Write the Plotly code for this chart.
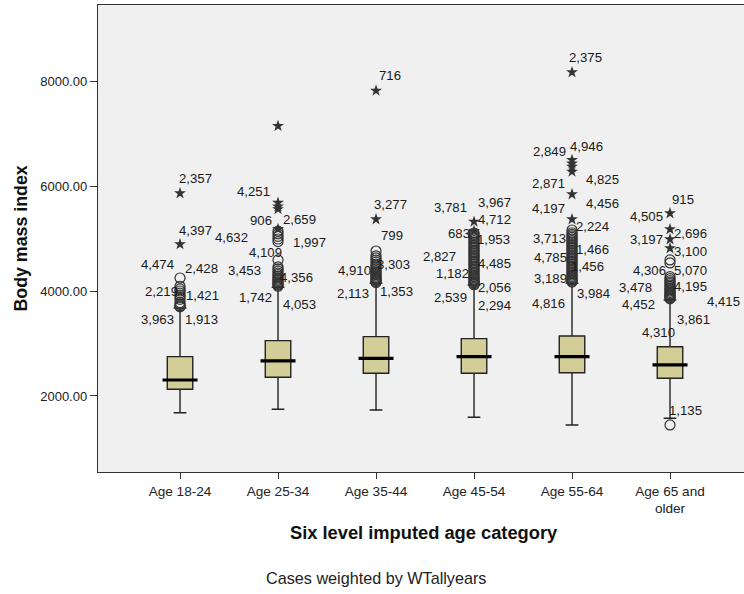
import plotly.graph_objects as go

# ---------------- data ----------------
categories = ["Age 18-24", "Age 25-34", "Age 35-44", "Age 45-54", "Age 55-64", "Age 65 and<br>older"]
cat_idx = [0, 1, 2, 3, 4, 5]

q1 = [2128, 2356, 2432, 2432, 2444, 2337]
median = [2305, 2667, 2718, 2749, 2749, 2591]
q3 = [2749, 3054, 3130, 3092, 3143, 2939]
lower_whisker = [1682, 1747, 1733, 1594, 1448, 1575]
upper_whisker = [3676, 4071, 4147, 4115, 4147, 3829]

# outliers (open circles) per category
circles_18_24 = [3700, 3720, 3745, 3780, 3840, 3880, 3920, 3960, 4000, 4040, 4090, 4248]
circles_25_34 = [4090, 4110, 4130, 4150, 4175, 4200, 4225, 4250, 4280, 4310, 4340, 4380,
                 4420, 4460, 4591, 4940, 4990, 5040, 5090, 5140]
circles_35_44 = [4160, 4180, 4200, 4220, 4240, 4260, 4285, 4310, 4335, 4360, 4390, 4420,
                 4450, 4480, 4510, 4550, 4590, 4630, 4670, 4762]
circles_45_54 = [4120, 4140, 4160, 4180, 4200, 4225, 4250, 4275, 4300, 4330, 4360, 4390,
                 4420, 4450, 4480, 4510, 4540, 4570, 4600, 4630, 4660, 4690, 4720, 4750,
                 4780, 4810, 4840, 4870, 4900, 4930, 4960, 4990, 5020, 5050, 5080, 5105]
circles_55_64 = [4170, 4190, 4210, 4230, 4255, 4280, 4305, 4330, 4360, 4390, 4420, 4450,
                 4480, 4510, 4540, 4570, 4600, 4630, 4660, 4690, 4720, 4750, 4780, 4810,
                 4840, 4870, 4900, 4930, 4960, 4990, 5020, 5050, 5080, 5110, 5162]
circles_65 = [1448, 3850, 3870, 3890, 3910, 3930, 3950, 3975, 4000, 4025, 4050, 4080,
              4110, 4140, 4170, 4200, 4235, 4273, 4534, 4591]

# extreme outliers (stars) per category
stars_18_24 = [4890, 5861]
stars_25_34 = [5181, 5560, 5610, 5680, 7143]
stars_35_44 = [5366, 7816]
stars_45_54 = [5143, 5320]
stars_55_64 = [5366, 5842, 6273, 6370, 6430, 6496, 8167]
stars_65 = [4813, 4985, 5176, 5480]

circles = [circles_18_24, circles_25_34, circles_35_44, circles_45_54, circles_55_64, circles_65]
stars = [stars_18_24, stars_25_34, stars_35_44, stars_45_54, stars_55_64, stars_65]

# case labels: (category, value, text, side, pixel offset)
case_labels = [
    (0, 6134, "2,357", "left", -2), (0, 5162, "4,397", "left", -2),
    (0, 4496, "4,474", "right", -5), (0, 4438, "2,428", "left", 4),
    (0, 3981, "2,219", "right", -1), (0, 3905, "1,421", "left", 5),
    (0, 3448, "3,963", "right", -5), (0, 3448, "1,913", "left", 4),
    (1, 5892, "4,251", "right", -7), (1, 5334, "906", "right", -5),
    (1, 5353, "2,659", "left", 4), (1, 5016, "4,632", "right", -29),
    (1, 4928, "1,997", "left", 14), (1, 4730, "4,109", "right", 5),
    (1, 4400, "3,453", "right", -16), (1, 4254, "4,356", "left", 1),
    (1, 3873, "1,742", "right", -5), (1, 3734, "4,053", "left", 4),
    (2, 8096, "716", "left", 2), (2, 5639, "3,277", "left", -3),
    (2, 5048, "799", "left", 4), (2, 4400, "4,910", "right", -4),
    (2, 4496, "3,303", "left", 0), (2, 3943, "2,113", "right", -6),
    (2, 4000, "1,353", "left", 3),
    (3, 5587, "3,781", "right", -6), (3, 5683, "3,967", "left", 3),
    (3, 5353, "4,712", "left", 3), (3, 5099, "683", "right", -3),
    (3, 4990, "1,953", "left", 2), (3, 4653, "2,827", "right", -17),
    (3, 4528, "4,485", "left", 3), (3, 4324, "1,182", "right", -4),
    (3, 4063, "2,056", "left", 3), (3, 3873, "2,539", "right", -6),
    (3, 3720, "2,294", "left", 3),
    (4, 8452, "2,375", "left", -4), (4, 6654, "2,849", "right", -5),
    (4, 6750, "4,946", "left", -3), (4, 6039, "2,871", "right", -6),
    (4, 6115, "4,825", "left", 13), (4, 5575, "4,197", "right", -6),
    (4, 5669, "4,456", "left", 13), (4, 5226, "2,224", "left", 3),
    (4, 5004, "3,713", "right", -5), (4, 4800, "1,466", "left", 3),
    (4, 4642, "4,785", "right", -4), (4, 4460, "1,456", "left", -2),
    (4, 4242, "3,189", "right", -4), (4, 3943, "3,984", "left", 4),
    (4, 3753, "4,816", "right", -6),
    (5, 5747, "915", "left", 1), (5, 5416, "4,505", "right", -6),
    (5, 5086, "2,696", "left", 3), (5, 4985, "3,197", "right", -6),
    (5, 4749, "3,100", "left", 3), (5, 4387, "4,306", "right", -3),
    (5, 4400, "5,070", "left", 3), (5, 4071, "3,478", "right", -17),
    (5, 4083, "4,195", "left", 3), (5, 3734, "4,452", "right", -14),
    (5, 3796, "4,415", "left", 36), (5, 3461, "3,861", "left", 6),
    (5, 3206, "4,310", "right", 6), (5, 1733, "1,135", "left", -2),
]

y_ticks = [2000, 4000, 6000, 8000]

# ---------------- figure ----------------
FONT = "Liberation Sans, Arial, sans-serif"
fig = go.Figure()

fig.add_trace(go.Box(
    x=cat_idx, q1=q1, median=median, q3=q3,
    lowerfence=lower_whisker, upperfence=upper_whisker,
    width=0.26, whiskerwidth=0.5,
    fillcolor="#D3CE97", line=dict(color="#222222", width=1.4),
    boxpoints=False, hoverinfo="skip", showlegend=False,
))

# thick median lines
fig.add_trace(go.Scatter(
    x=cat_idx, y=median, mode="markers",
    marker=dict(symbol="line-ew-open", size=25, color="#000000",
                line=dict(color="#000000", width=3.2)),
    hoverinfo="skip", showlegend=False,
))

for i in cat_idx:
    fig.add_trace(go.Scatter(
        x=[i] * len(circles[i]), y=circles[i], mode="markers",
        marker=dict(symbol="circle-open", size=10, color="#333333", line=dict(width=1.2)),
        hoverinfo="skip", showlegend=False,
    ))
    fig.add_trace(go.Scatter(
        x=[i] * len(stars[i]), y=stars[i], mode="markers",
        marker=dict(symbol="star", size=9, color="#333333", line=dict(width=0)),
        hoverinfo="skip", showlegend=False,
    ))

annotations = []
for cat, val, txt, side, dx in case_labels:
    annotations.append(dict(
        x=cat, y=val, xref="x", yref="y", text=txt, showarrow=False,
        xanchor=side, yanchor="middle", xshift=dx, borderpad=0,
        font=dict(family=FONT, size=13.2, color="#1a1a1a"),
    ))

annotations += [
    dict(x=0.5046, y=-0.1306, xref="paper", yref="paper", showarrow=False,
         text="<b>Six level imputed age category</b>", xanchor="center", yanchor="middle",
         font=dict(family=FONT, size=18.3, color="#111111")),
    dict(x=-0.1207, y=0.5, xref="paper", yref="paper", showarrow=False, textangle=-90,
         text="<b>Body mass index</b>", xanchor="center", yanchor="middle",
         font=dict(family=FONT, size=17.8, color="#111111")),
    dict(x=0.430, y=-0.227, xref="paper", yref="paper", showarrow=False,
         text="Cases weighted by WTallyears", xanchor="center", yanchor="middle",
         font=dict(family=FONT, size=16.2, color="#222222")),
]

fig.update_layout(
    width=744, height=594,
    margin=dict(l=98, r=0, t=5, b=122),
    paper_bgcolor="#FFFFFF", plot_bgcolor="#F0F0F0",
    font=dict(family=FONT, size=13, color="#222222"),
    annotations=annotations,
    showlegend=False,
)
fig.update_xaxes(
    range=[-0.837, 5.755], tickmode="array", tickvals=cat_idx, ticktext=categories,
    showgrid=False, zeroline=False, showline=True, linecolor="#333333", linewidth=1.4,
    mirror=True, ticks="outside", ticklen=6, tickcolor="#333333",
    tickfont=dict(family=FONT, size=13.6, color="#222222"),
)
fig.update_yaxes(
    range=[552, 9448], tickmode="array", tickvals=y_ticks, tickformat=".2f",
    showgrid=False, zeroline=False, showline=True, linecolor="#333333", linewidth=1.4,
    mirror=False, ticks="outside", ticklen=7, tickcolor="#333333",
    tickfont=dict(family=FONT, size=13, color="#222222"),
)

fig.write_html("out.html", config={"displayModeBar": False},
               post_script="document.body.style.margin='0';")
